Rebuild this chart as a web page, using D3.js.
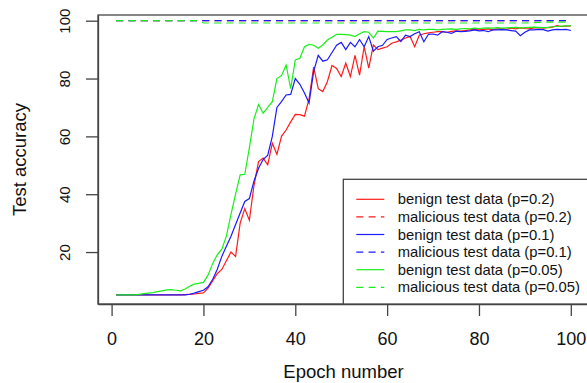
<!DOCTYPE html>
<html>
<head>
<meta charset="utf-8">
<script src="https://cdn.jsdelivr.net/npm/d3@7"></script>
<style>
    body { margin: 0; background: #fff; }
    text { font-family: "Liberation Sans", Arial, sans-serif; fill: #111; }
</style>
</head>
<body>
<div id="chart"></div>
<script>
// Epochs 1..100
const epochs = d3.range(1, 101);

// Benign test accuracy per epoch
const benign02 = [
    5.2, 5.2, 5.2, 5.2, 5.2, 5.2, 5.2, 5.2, 5.2, 5.2,
    5.2, 5.2, 5.2, 5.2, 5.2, 5.3, 5.4, 5.5, 5.7, 5.9,
    7.5, 10, 12.5, 14, 17, 20, 18.5, 30, 35, 31,
    43, 51.3, 52.5, 50.2, 57.6, 53.8, 60, 62.2, 65, 67.6,
    67.5, 67, 73, 84, 76.5, 75.5, 79, 84.5, 83.5, 80.7,
    85.3, 80.7, 88, 81.2, 91, 83.6, 91.6, 90, 90.5, 91,
    92.2, 92.7, 93.3, 94, 94.5, 91, 95, 95.5, 95.8, 96,
    96.2, 96.2, 96, 96.3, 96.5, 96.4, 96.6, 96.8, 97, 96.8,
    97, 97.2, 96.8, 97.2, 97.3, 97, 97.4, 97.2, 97.5, 97.3,
    97.2, 97.5, 97.6, 97.4, 97.6, 97.8, 98.3, 98, 98.1, 98.2
];
const benign01 = [
    5.2, 5.2, 5.2, 5.2, 5.2, 5.2, 5.2, 5.2, 5.2, 5.2,
    5.2, 5.2, 5.2, 5.2, 5.2, 5.2, 5.4, 5.8, 6.3, 6.8,
    8, 10.5, 14, 18.5, 22, 25.5, 29.5, 33.5, 37.5, 38.5,
    44.5, 49, 52, 53.5, 60, 70, 72, 74.3, 74.5, 80,
    78, 75, 71.5, 82.5, 88, 86, 86.5, 89, 91.5, 92.5,
    90, 92.5, 91, 93.5, 91, 94.5, 89.5, 91, 91.5, 93.5,
    94, 94.5, 92.8, 95, 94.5, 95.5, 96.2, 92.7, 95.3, 95.4,
    95, 96.2, 96, 95.6, 96.4, 96.2, 96.3, 96.5, 96.8, 96.5,
    96.6, 96.2, 96.8, 96.8, 96.9, 96.8, 96.6, 96.4, 94.8, 96,
    96.8, 96.8, 97, 96.9, 96.4, 96.8, 97, 96.9, 97, 96.6
];
const benign005 = [
    5.2, 5.2, 5.2, 5.2, 5.2, 5.4, 5.6, 5.8, 6, 6.3,
    6.6, 6.9, 7, 6.8, 6.6, 7.2, 8.2, 8.9, 9.2, 9.5,
    12, 16, 19, 21, 25.5, 33, 40, 46.7, 46.9, 56,
    66, 71, 68, 70, 72, 80, 81, 84.7, 76.5, 86.4,
    87, 91, 91.8, 91.5, 90.5, 91.6, 93.3, 94.3, 95.3, 95.3,
    95.2, 95, 94.5, 95.5, 96.2, 96, 94, 96.4, 96.3, 96.2,
    96.2, 96.2, 96.5, 96.8, 96.8, 96.6, 97, 96.8, 97, 97,
    96.8, 97, 97.1, 97.2, 97, 97.2, 97.3, 97.2, 97.4, 97.3,
    97.4, 97.5, 97.4, 97.6, 97.4, 97.5, 97.6, 97.7, 97.5, 97.6,
    97.7, 97.8, 97.7, 97.6, 97.7, 97.9, 98, 98.1, 98.2, 98.3
];

// Malicious test accuracy per epoch (all close to 100)
const malicious02 = epochs.map(() => 100);
const malicious01 = epochs.map(() => 100);
const malicious005 = [
    100, 100, 100, 100, 100, 100, 100, 100, 100, 100,
    100, 100, 100, 100, 100, 100, 100, 100, 100, 99.2,
    99.2, 99.2, 99.2, 99.2, 99.2, 99.2, 99.2, 99.2, 99.2, 99.2,
    99.2, 99.2, 99.2, 99.2, 99.2, 99.2, 99.2, 99.2, 99.2, 99.2,
    99.2, 99.2, 99.2, 99.2, 99.2, 99.2, 99.2, 99.2, 99.2, 99.2,
    99.2, 99.2, 99.2, 99.2, 99.2, 99.2, 99.2, 99.2, 99.2, 99.2,
    99.2, 99.2, 99.2, 99.2, 99.2, 99.2, 99.2, 99.2, 99.2, 99.2,
    99.2, 99.2, 99.2, 99.2, 99.2, 99.2, 99.2, 99.2, 99.2, 99.2,
    99.2, 99.2, 99.2, 99.2, 99.2, 99.2, 99.2, 99.2, 99.2, 99.2,
    99.3, 99.3, 99.4, 99.4, 99.5, 99.5, 99.5, 99.5, 99.5, 99.5
];

const seriesLabels = [
    "benign test data (p=0.2)",
    "malicious test data (p=0.2)",
    "benign test data (p=0.1)",
    "malicious test data (p=0.1)",
    "benign test data (p=0.05)",
    "malicious test data (p=0.05)"
];
const seriesValues = [benign02, malicious02, benign01, malicious01, benign005, malicious005];
const seriesColors = ["#ff1a1a", "#ff1a1a", "#1a1aff", "#1a1aff", "#1aee1a", "#1aee1a"];
const seriesDashed = [false, true, false, true, false, true];

const xTicks = [0, 20, 40, 60, 80, 100];
const yTicks = [20, 40, 60, 80, 100];

// Plot box, R style
const margin = { top: 15, right: -2, bottom: 79, left: 98 };
const width = 587 - margin.left - margin.right;
const height = 383 - margin.top - margin.bottom;

const svg = d3.select("#chart")
    .append("svg")
    .attr("width", 587)
    .attr("height", 383);

const g = svg.append("g")
    .attr("transform", `translate(${margin.left},${margin.top})`);

// Scales (R pads the data range by 4%)
const x = d3.scaleLinear().domain([-2.96, 103.96]).range([0, width]);
const y = d3.scaleLinear().domain([2.04, 101.97]).range([height, 0]);

const line = d3.line()
    .x((d, i) => x(epochs[i]))
    .y(d => y(d));

// Draw series in legend order
seriesValues.forEach((vals, i) => {
    g.append("path")
        .datum(vals)
        .attr("d", line)
        .attr("fill", "none")
        .attr("stroke", seriesColors[i])
        .attr("stroke-width", 1.2)
        .attr("stroke-dasharray", seriesDashed[i] ? "7,5.3" : null);
});

// Box
g.append("rect")
    .attr("x", 0)
    .attr("y", 0)
    .attr("width", width)
    .attr("height", height)
    .attr("fill", "none")
    .attr("stroke", "#444")
    .attr("stroke-width", 1.3);

// X axis
const xAxis = g.append("g")
    .attr("transform", `translate(0,${height})`)
    .call(d3.axisBottom(x).tickValues(xTicks).tickSize(12).tickPadding(16).tickSizeOuter(0));
xAxis.select(".domain").attr("stroke", "#444").attr("stroke-width", 1.3);
xAxis.selectAll(".tick line").attr("stroke", "#444").attr("stroke-width", 1.3);
xAxis.selectAll(".tick text")
    .attr("font-size", 18)
    .attr("font-family", "'Liberation Sans', Arial, sans-serif")
    .attr("fill", "#111");

// Y axis with rotated tick labels
const yAxis = g.append("g")
    .call(d3.axisLeft(y).tickValues(yTicks).tickSize(12).tickSizeOuter(0));
yAxis.select(".domain").attr("stroke", "#444").attr("stroke-width", 1.3);
yAxis.selectAll(".tick line").attr("stroke", "#444").attr("stroke-width", 1.3);
yAxis.selectAll(".tick text")
    .attr("font-size", 15)
    .attr("font-family", "'Liberation Sans', Arial, sans-serif")
    .attr("fill", "#111")
    .attr("x", null)
    .attr("dy", null)
    .attr("text-anchor", "middle")
    .attr("transform", "translate(-28,0) rotate(-90)");

// Axis titles
svg.append("text")
    .attr("x", margin.left + width / 2)
    .attr("y", 378)
    .attr("text-anchor", "middle")
    .style("font-size", "18.5px")
    .text("Epoch number");

svg.append("text")
    .attr("transform", `translate(26,${margin.top + height / 2}) rotate(-90)`)
    .attr("text-anchor", "middle")
    .style("font-size", "18.5px")
    .text("Test accuracy");

// Legend, bottom right
const legendLeft = 343.3;
const legendTop = 179.3;
const rowHeight = 17.6;

svg.append("rect")
    .attr("x", legendLeft)
    .attr("y", legendTop)
    .attr("width", margin.left + width - legendLeft)
    .attr("height", margin.top + height - legendTop)
    .attr("fill", "#fff")
    .attr("stroke", "#444")
    .attr("stroke-width", 1.3);

const legend = svg.selectAll(".legend")
    .data(seriesLabels)
    .enter().append("g")
    .attr("class", "legend")
    .attr("transform", (d, i) => `translate(${legendLeft},${legendTop + 20 + i * rowHeight})`);

legend.append("line")
    .attr("x1", 13)
    .attr("x2", 41)
    .attr("y1", 0)
    .attr("y2", 0)
    .attr("stroke", (d, i) => seriesColors[i])
    .attr("stroke-width", 1.2)
    .attr("stroke-dasharray", (d, i) => seriesDashed[i] ? "7,5.3" : null);

legend.append("text")
    .attr("x", 54.4)
    .attr("y", 0)
    .attr("dy", ".35em")
    .style("font-size", "14.8px")
    .text(d => d);
</script>
</body>
</html>
